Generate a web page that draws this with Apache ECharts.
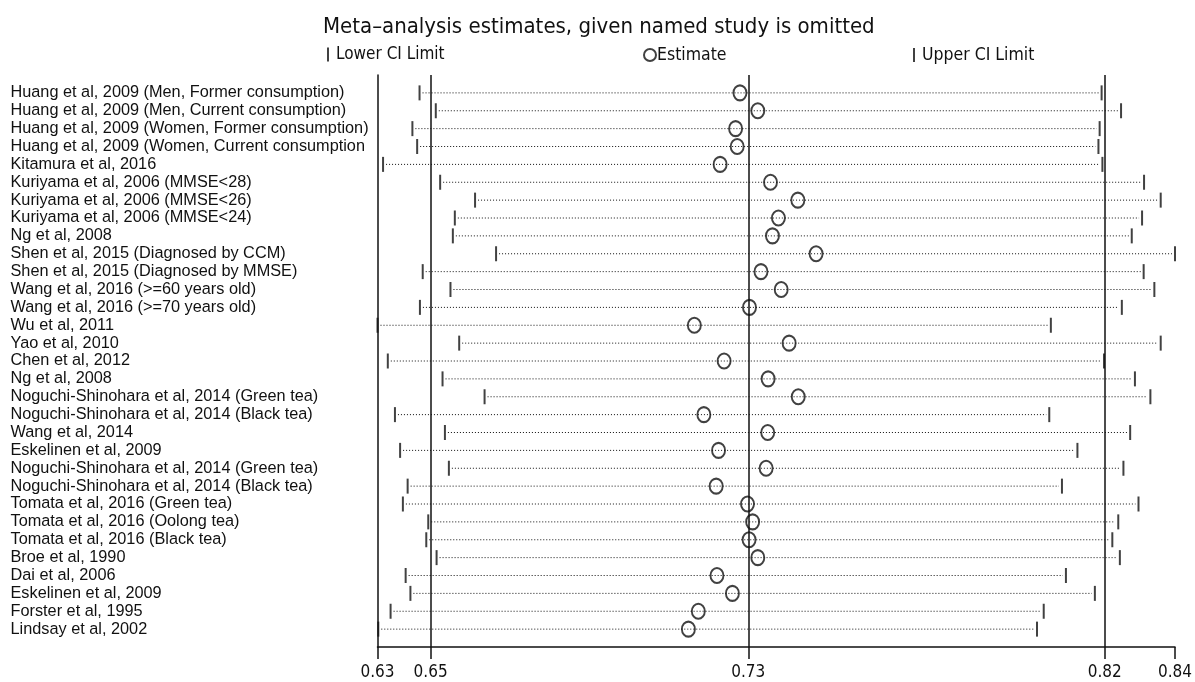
<!DOCTYPE html>
<html>
<head>
<meta charset="utf-8">
<script src="https://cdn.jsdelivr.net/npm/echarts@6/dist/echarts.min.js"></script>
<style>
html,body{margin:0;padding:0;background:#fff;}
#chart{width:1195px;height:682px;}
</style>
</head>
<body>
<div id="chart"></div>
<script>
// ---- data ----
const studies = [
  'Huang et al, 2009 (Men, Former consumption)',
  'Huang et al, 2009 (Men, Current consumption)',
  'Huang et al, 2009 (Women, Former consumption)',
  'Huang et al, 2009 (Women, Current consumption)',
  'Kitamura et al, 2016',
  'Kuriyama et al, 2006 (MMSE<28)',
  'Kuriyama et al, 2006 (MMSE<26)',
  'Kuriyama et al, 2006 (MMSE<24)',
  'Ng et al, 2008',
  'Shen et al, 2015 (Diagnosed by CCM)',
  'Shen et al, 2015 (Diagnosed by MMSE)',
  'Wang et al, 2016 (>=60 years old)',
  'Wang et al, 2016 (>=70 years old)',
  'Wu et al, 2011',
  'Yao et al, 2010',
  'Chen et al, 2012',
  'Ng et al, 2008',
  'Noguchi-Shinohara et al, 2014 (Green tea)',
  'Noguchi-Shinohara et al, 2014 (Black tea)',
  'Wang et al, 2014',
  'Eskelinen et al, 2009',
  'Noguchi-Shinohara et al, 2014 (Green tea)',
  'Noguchi-Shinohara et al, 2014 (Black tea)',
  'Tomata et al, 2016 (Green tea)',
  'Tomata et al, 2016 (Oolong tea)',
  'Tomata et al, 2016 (Black tea)',
  'Broe et al, 1990',
  'Dai et al, 2006',
  'Eskelinen et al, 2009',
  'Forster et al, 1995',
  'Lindsay et al, 2002'
];
const lowerCI = [0.6471,0.6512,0.6453,0.6465,0.6379,0.6523,0.6611,0.6560,0.6555,0.6664,
  0.6479,0.6549,0.6472,0.6365,0.6571,0.6391,0.6529,0.6635,0.6409,0.6535,
  0.6422,0.6545,0.6441,0.6429,0.6493,0.6488,0.6514,0.6436,0.6448,0.6398,0.6367];
const estimate = [0.7279,0.7324,0.7268,0.7272,0.7229,0.7356,0.7425,0.7376,0.7361,0.7471,
  0.7332,0.7383,0.7303,0.7164,0.7403,0.7239,0.7350,0.7426,0.7188,0.7349,
  0.7225,0.7345,0.7219,0.7298,0.7311,0.7302,0.7324,0.7221,0.7260,0.7174,0.7149];
const upperCI = [0.8191,0.8240,0.8186,0.8183,0.8193,0.8298,0.8340,0.8293,0.8267,0.8376,
  0.8297,0.8324,0.8242,0.8063,0.8340,0.8197,0.8275,0.8314,0.8059,0.8263,
  0.8130,0.8246,0.8091,0.8284,0.8233,0.8218,0.8237,0.8101,0.8174,0.8045,0.8028];
const overall = [0.6499, 0.7300, 0.8199];           // overall lower CI, estimate, upper CI
const tickValues = [0.6365, 0.6499, 0.7300, 0.8199, 0.8376];
const tickLabels = ['0.63', '0.65', '0.73', '0.82', '0.84'];
const titleText = 'Meta\u2013analysis estimates, given named study is omitted';

// ---- chart ----
const condensed = '"Liberation Sans Narrow", "DejaVu Sans Condensed", "Arial Narrow", sans-serif';
const chart = echarts.init(document.getElementById('chart'), null, {renderer: 'canvas'});

const rows = studies.map((s, i) => i + 1);
const ciData = rows.map((r, i) => [lowerCI[i], upperCI[i], r]);

const option = {
  animation: false,
  backgroundColor: '#fff',
  title: {
    text: titleText,
    left: 318, top: 11,
    textStyle: {fontFamily: condensed, fontSize: 22, fontWeight: 'normal', color: '#111'}
  },
  legend: [
    {data: ['Lower CI Limit'], left: 322, top: 41, itemWidth: 2, itemHeight: 14, itemGap: 0,
     textStyle: {fontFamily: condensed, fontSize: 17, color: '#111', padding: [0,0,0,2]}},
    {data: ['Estimate'], left: 638, top: 41, itemWidth: 12, itemHeight: 13,
     textStyle: {fontFamily: condensed, fontSize: 17.5, color: '#111', padding: [0,0,0,-4]}},
    {data: ['Upper CI Limit'], left: 908, top: 41, itemWidth: 2, itemHeight: 14,
     textStyle: {fontFamily: condensed, fontSize: 17.5, color: '#111', padding: [0,0,0,2]}}
  ],
  grid: {left: 377.5, right: 20, top: 75, height: 572, containLabel: false},
  xAxis: {
    type: 'value', position: 'bottom', min: tickValues[0], max: tickValues[tickValues.length - 1],
    axisLine: {show: true, onZero: false, lineStyle: {color: '#111', width: 1.5}},
    axisTick: {show: true, customValues: tickValues, length: 12, lineStyle: {color: '#111', width: 1.5}},
    axisLabel: {
      customValues: tickValues, margin: 17,
      fontFamily: condensed, fontSize: 17, color: '#111',
      formatter: v => {
        let best = 0;
        tickValues.forEach((t, i) => { if (Math.abs(t - v) < Math.abs(tickValues[best] - v)) best = i; });
        return tickLabels[best];
      }
    },
    splitLine: {show: false}
  },
  yAxis: {
    type: 'value', inverse: true, min: 0, max: studies.length + 1, interval: 1,
    axisLine: {show: true, onZero: false, lineStyle: {color: '#111', width: 1.5}},
    axisTick: {show: false},
    splitLine: {show: false},
    axisLabel: {
      align: 'left', margin: 367,
      fontFamily: '"Liberation Sans", Arial, sans-serif', fontSize: 16.3, color: '#111',
      width: 360.5, overflow: 'truncate', ellipsis: '',
      formatter: v => (v >= 1 && v <= studies.length) ? studies[v - 1] : ''
    }
  },
  series: [
    {
      name: 'CI', type: 'custom', silent: true, z: 1,
      data: ciData,
      encode: {x: [0, 1], y: 2},
      renderItem: (params, api) => {
        const p1 = api.coord([api.value(0), api.value(2)]);
        const p2 = api.coord([api.value(1), api.value(2)]);
        return {
          type: 'line',
          shape: {x1: p1[0] + 3, y1: p1[1], x2: p2[0] - 3, y2: p2[1]},
          style: {stroke: '#111', lineWidth: 1, lineDash: [1, 2]}
        };
      }
    },
    {
      name: 'Lower CI Limit', type: 'scatter', z: 3, clip: false, silent: true,
      symbol: 'rect', symbolSize: [2, 15],
      itemStyle: {color: '#111'},
      data: rows.map((r, i) => [lowerCI[i], r])
    },
    {
      name: 'Estimate', type: 'scatter', z: 4, clip: false, silent: true,
      symbol: 'circle', symbolSize: [13, 15],
      itemStyle: {color: 'rgba(0,0,0,0)', borderColor: '#111', borderWidth: 2},
      data: rows.map((r, i) => [estimate[i], r]),
      markLine: {
        silent: true, symbol: ['none', 'none'], label: {show: false},
        lineStyle: {color: '#111', width: 1.5, type: 'solid'},
        data: overall.map(v => ({xAxis: v}))
      }
    },
    {
      name: 'Upper CI Limit', type: 'scatter', z: 3, clip: false, silent: true,
      symbol: 'rect', symbolSize: [2, 15],
      itemStyle: {color: '#111'},
      data: rows.map((r, i) => [upperCI[i], r])
    }
  ]
};
chart.setOption(option);
</script>
</body>
</html>
